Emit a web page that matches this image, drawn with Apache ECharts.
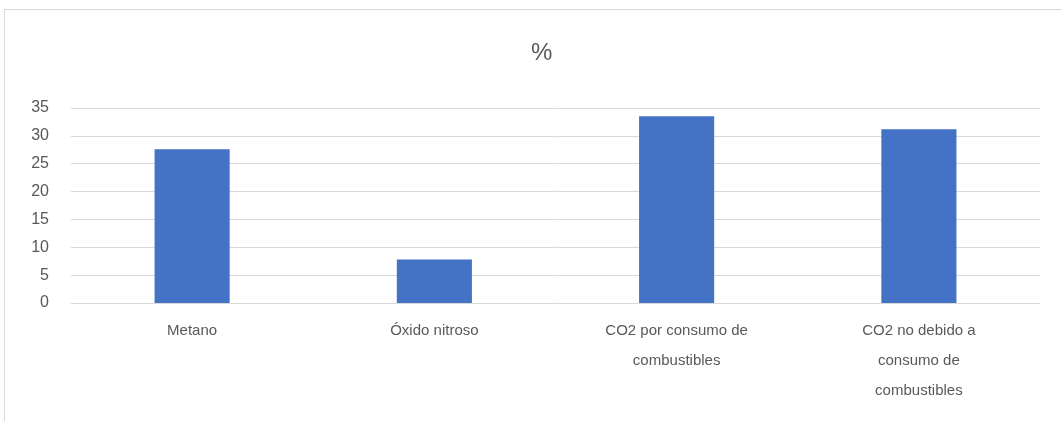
<!DOCTYPE html>
<html>
<head>
<meta charset="utf-8">
<script src="https://cdn.jsdelivr.net/npm/echarts@6/dist/echarts.min.js"></script>
<style>
  html, body { margin: 0; padding: 0; background: #fff; }
  #frame { position: absolute; left: 4px; top: 9px; width: 1057px; height: 412px;
           border-top: 1px solid #d9d9d9; border-left: 1px solid #d9d9d9; }
  #main { position: absolute; left: 0; top: 0; width: 1061px; height: 421px; }
</style>
</head>
<body>
<div id="frame"></div>
<div id="main"></div>
<script>
// categorias y valores (en %)
var categorias = ['Metano', 'Óxido nitroso', 'CO2 por consumo de\ncombustibles', 'CO2 no debido a\nconsumo de\ncombustibles'];
var valores = [27.6, 7.8, 33.5, 31.2];

var myChart = echarts.init(document.getElementById('main'));

var option = {
    backgroundColor: 'transparent',
    title: {
        text: '%',
        left: 526,
        top: 36,
        textStyle: {
            color: '#595959',
            fontSize: 24,
            fontWeight: 'normal',
            fontFamily: 'Liberation Sans'
        }
    },
    grid: {
        left: 71,
        right: 21,
        top: 108,
        bottom: 118
    },
    xAxis: {
        type: 'category',
        data: categorias,
        axisLine: { lineStyle: { color: '#d9d9d9' } },
        axisTick: { show: false },
        axisLabel: {
            color: '#595959',
            fontSize: 15,
            fontFamily: 'Liberation Sans',
            lineHeight: 30,
            margin: 13
        }
    },
    yAxis: {
        type: 'value',
        min: 0,
        max: 35,
        interval: 5,
        axisLine: { show: false },
        axisTick: { show: false },
        splitLine: { lineStyle: { color: '#d9d9d9' } },
        axisLabel: {
            color: '#595959',
            fontSize: 16,
            fontFamily: 'Liberation Sans',
            margin: 22
        }
    },
    series: [{
        type: 'bar',
        data: valores,
        barWidth: '31%',
        itemStyle: { color: '#4472c4' }
    }]
};

myChart.setOption(option);
</script>
</body>
</html>
